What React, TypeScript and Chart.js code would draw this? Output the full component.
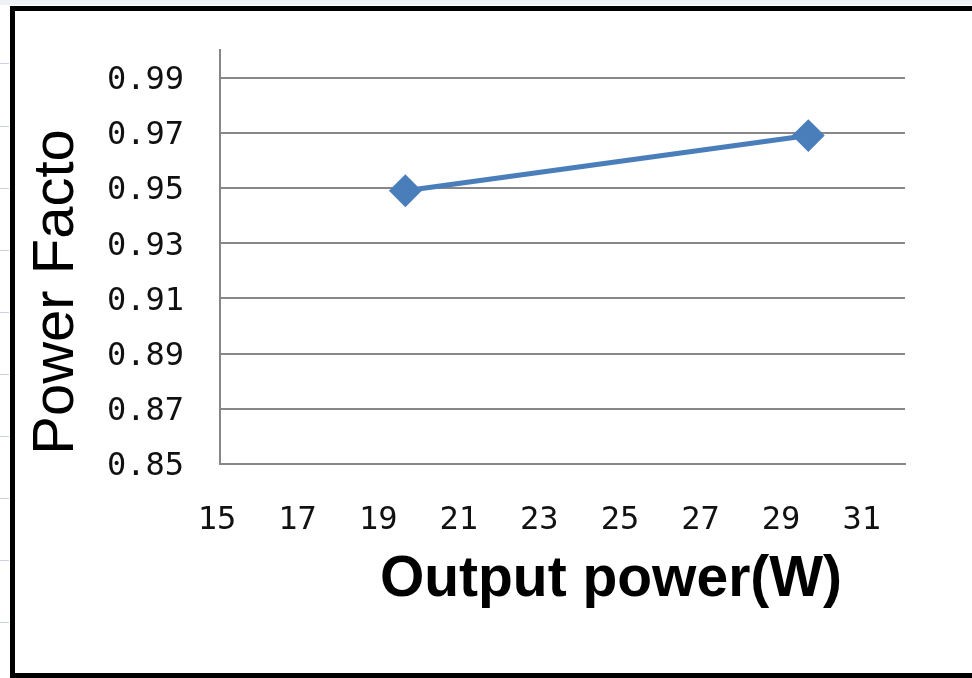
import React, { useEffect, useRef } from "react";
import { Chart, registerables } from "chart.js";

Chart.register(...registerables);

// ---- data ----
const outputPower = [19.6, 29.6];
const powerFactor = [0.949, 0.969];
const xTicks = [15, 17, 19, 21, 23, 25, 27, 29, 31];
const yTicks = [0.85, 0.87, 0.89, 0.91, 0.93, 0.95, 0.97, 0.99];
const xRange = [15, 32];
const yRange = [0.85, 1.0];
const xTitle = "Output power(W)";
const yTitle = "Power Facto";

const LINE_BLUE = "#4A7EBB";
const GRID_GRAY = "#878787";
const TICK_FONT = "'DejaVu Sans Mono', 'Liberation Mono', monospace";
const TITLE_FONT = "'Liberation Sans', Arial, sans-serif";

const axisTitlePlugin = {
  id: "axisTitlesCustom",
  afterDraw(chart: any) {
    const ctx = chart.ctx;
    const a = chart.chartArea;
    ctx.save();
    ctx.fillStyle = "#000";
    // x title
    ctx.font = `bold 57px ${TITLE_FONT}`;
    ctx.textAlign = "center";
    ctx.textBaseline = "alphabetic";
    ctx.fillText(xTitle, a.left + 391, a.bottom + 132);
    // y title (rotated)
    ctx.font = `58px ${TITLE_FONT}`;
    ctx.translate(73, a.top + 242);
    ctx.rotate(-Math.PI / 2);
    ctx.fillText(yTitle, 0, 0);
    ctx.restore();
  },
};

export default function App() {
  const ref = useRef<HTMLCanvasElement | null>(null);

  useEffect(() => {
    if (!ref.current) return;
    const chart = new Chart(ref.current, {
      type: "scatter",
      data: {
        datasets: [
          {
            data: outputPower.map((x, i) => ({ x, y: powerFactor[i] })),
            showLine: true,
            borderColor: LINE_BLUE,
            backgroundColor: LINE_BLUE,
            borderWidth: 5,
            pointStyle: "rectRot",
            pointRadius: 15,
            pointBorderWidth: 2,
            pointBackgroundColor: LINE_BLUE,
            pointBorderColor: LINE_BLUE,
          },
        ],
      },
      options: {
        responsive: false,
        animation: false,
        layout: { padding: { left: 0, top: 50, right: 67, bottom: 0 } },
        plugins: {
          legend: { display: false },
          tooltip: { enabled: false },
          title: { display: false },
        },
        scales: {
          x: {
            type: "linear",
            min: xRange[0],
            max: xRange[1],
            afterBuildTicks: (s: any) => {
              s.ticks = xTicks.map((v) => ({ value: v }));
            },
            afterFit: (s: any) => {
              s.height = 214;
              s.paddingLeft = 0;
              s.paddingRight = 0;
            },
            grid: { display: false, drawTicks: false },
            border: { display: true, color: GRID_GRAY, width: 2 },
            ticks: {
              font: { family: TICK_FONT, size: 32 },
              color: "#111",
              padding: 37,
              labelOffset: -3,
              maxRotation: 0,
              autoSkip: false,
              callback: (v: any) => String(v),
            },
          },
          y: {
            type: "linear",
            min: yRange[0],
            max: yRange[1],
            afterBuildTicks: (s: any) => {
              s.ticks = yTicks.map((v) => ({ value: v }));
            },
            afterFit: (s: any) => {
              s.width = 220;
              s.paddingTop = 0;
              s.paddingBottom = 0;
            },
            grid: { color: GRID_GRAY, lineWidth: 2, drawTicks: false },
            border: { display: true, color: GRID_GRAY, width: 2 },
            ticks: {
              font: { family: TICK_FONT, size: 32 },
              color: "#111",
              padding: 36,
              labelOffset: 3,
              autoSkip: false,
              callback: (v: any) => Number(v).toFixed(2),
            },
          },
        },
      },
      plugins: [axisTitlePlugin],
    } as any);
    return () => chart.destroy();
  }, []);

  const rowMarks = [63, 126, 188, 250, 312, 374, 436, 498, 560, 622];

  return (
    <div
      style={{
        position: "fixed",
        left: 0,
        top: 0,
        width: 972,
        height: 678,
        background: "#fff",
        overflow: "hidden",
      }}
    >
      <div
        style={{
          position: "absolute",
          left: 0,
          top: 0,
          width: 972,
          height: 5,
          background: "#eef1f6",
        }}
      />
      {rowMarks.map((y) => (
        <div
          key={y}
          style={{
            position: "absolute",
            left: 0,
            top: y,
            width: 9,
            height: 1,
            background: "#c8d2e0",
          }}
        />
      ))}
      <div
        style={{
          position: "absolute",
          left: 10,
          top: 6,
          width: 1000,
          height: 672,
          boxSizing: "border-box",
          border: "5px solid #000",
        }}
      />
      <canvas
        ref={ref}
        width={972}
        height={678}
        style={{ position: "absolute", left: 0, top: 0, width: 972, height: 678 }}
      />
    </div>
  );
}
